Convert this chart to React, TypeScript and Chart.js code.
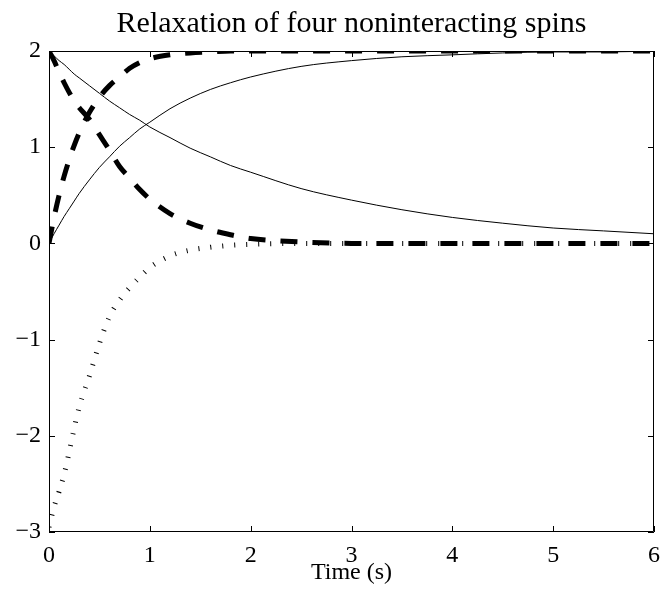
import React, { useEffect, useRef } from "react";
import { Chart, registerables } from "chart.js";

Chart.register(...registerables);

const timeS = [0, 0.05, 0.1, 0.15, 0.2, 0.25, 0.3, 0.4, 0.5, 0.6, 0.7, 0.8, 0.9, 1.0, 1.2, 1.4, 1.6, 1.8, 2.0, 2.5, 3.0, 3.5, 4.0, 4.5, 5.0, 5.5, 6.0];
const slowRise = [0, 0.1, 0.19, 0.28, 0.36, 0.44, 0.52, 0.66, 0.79, 0.9, 1.01, 1.1, 1.19, 1.26, 1.4, 1.51, 1.6, 1.67, 1.73, 1.84, 1.9, 1.94, 1.96, 1.98, 1.99, 1.99, 2.0];
const slowDecay = [2, 1.95, 1.9, 1.86, 1.81, 1.76, 1.72, 1.64, 1.56, 1.48, 1.41, 1.34, 1.28, 1.21, 1.1, 0.99, 0.9, 0.81, 0.74, 0.57, 0.45, 0.35, 0.27, 0.21, 0.16, 0.13, 0.1];
const fastRise = [0, 0.27, 0.5, 0.7, 0.87, 1.02, 1.15, 1.36, 1.52, 1.64, 1.73, 1.82, 1.88, 1.92, 1.96, 1.98, 1.99, 2.0, 2.0, 2.0, 2.0, 2.0, 2.0, 2.0, 2.0, 2.0, 2.0];
const fastDecay = [2, 1.9, 1.78, 1.67, 1.57, 1.48, 1.41, 1.29, 1.13, 0.97, 0.8, 0.68, 0.56, 0.46, 0.31, 0.21, 0.14, 0.09, 0.05, 0.015, 0, 0, 0, 0, 0, 0, 0];
const negRecovery = [-2.95, -2.74, -2.58, -2.4, -2.17, -1.92, -1.7, -1.38, -1.04, -0.76, -0.59, -0.46, -0.35, -0.25, -0.13, -0.07, -0.04, -0.02, -0.01, 0, 0, 0, 0, 0, 0, 0, 0];

const xTickValues = [0, 1, 2, 3, 4, 5, 6];
const yTickValues = [-3, -2, -1, 0, 1, 2];

const FONT = "'Liberation Serif', 'Times New Roman', serif";

const pts = (arr: number[]) => timeS.map((t, i) => ({ x: t, y: arr[i] }));

const framePlugin = {
  id: "frame",
  afterDatasetsDraw(chart: any) {
    const { ctx, chartArea: a, scales } = chart;
    const len = 6;
    ctx.save();
    ctx.strokeStyle = "#000";
    ctx.lineWidth = 1;
    ctx.beginPath();
    ctx.rect(a.left + 0.5, a.top + 0.5, a.right - a.left - 1, a.bottom - a.top - 1);
    xTickValues.forEach((v) => {
      const x = Math.round(scales.x.getPixelForValue(v)) + 0.5;
      ctx.moveTo(x, a.bottom);
      ctx.lineTo(x, a.bottom - len);
      ctx.moveTo(x, a.top);
      ctx.lineTo(x, a.top + len);
    });
    yTickValues.forEach((v) => {
      const y = Math.round(scales.y.getPixelForValue(v)) + 0.5;
      ctx.moveTo(a.left, y);
      ctx.lineTo(a.left + len, y);
      ctx.moveTo(a.right, y);
      ctx.lineTo(a.right - len, y);
    });
    ctx.stroke();
    ctx.restore();
  },
};

export default function App() {
  const ref = useRef<HTMLCanvasElement | null>(null);
  useEffect(() => {
    if (!ref.current) return;
    const base = { pointRadius: 0, borderColor: "#000", fill: false, cubicInterpolationMode: "monotone" as const };
    const chart = new Chart(ref.current, {
      type: "line",
      data: {
        datasets: [
          { ...base, label: "slow rise", data: pts(slowRise), borderWidth: 1 },
          { ...base, label: "slow decay", data: pts(slowDecay), borderWidth: 1 },
          { ...base, label: "fast rise", data: pts(fastRise), borderWidth: 5, borderDash: [17, 15] },
          { ...base, label: "fast decay", data: pts(fastDecay), borderWidth: 5, borderDash: [17, 15] },
          { ...base, label: "negative recovery", data: pts(negRecovery), borderWidth: 5, borderDash: [1, 11] },
        ],
      },
      options: {
        responsive: false,
        animation: false,
        devicePixelRatio: 1,
        layout: { padding: { left: 0, right: 8, top: 0, bottom: 0 } },
        plugins: {
          legend: { display: false },
          tooltip: { enabled: false },
          title: {
            display: true,
            fullSize: false,
            text: "Relaxation of four noninteracting spins",
            color: "#000",
            font: { family: FONT, size: 30, weight: "normal" },
            padding: { top: 6, bottom: 9 },
          },
        },
        scales: {
          x: {
            type: "linear",
            min: 0,
            max: 6,
            afterFit: (s: any) => { s.height = 58; },
            afterBuildTicks: (s: any) => { s.ticks = xTickValues.map((v) => ({ value: v })); },
            grid: { display: false, drawTicks: false },
            border: { display: false },
            ticks: { color: "#000", font: { family: FONT, size: 24 }, padding: 9, maxRotation: 0 },
            title: {
              display: true,
              text: "Time (s)",
              color: "#000",
              font: { family: FONT, size: 24 },
              padding: { top: 0, bottom: 3 },
            },
          },
          y: {
            type: "linear",
            min: -3,
            max: 2,
            afterFit: (s: any) => { s.width = 49; },
            afterBuildTicks: (s: any) => { s.ticks = yTickValues.map((v) => ({ value: v })); },
            grid: { display: false, drawTicks: false },
            border: { display: false },
            ticks: {
              color: "#000",
              font: { family: FONT, size: 24 },
              padding: 8,
              callback: (v: any) => (Number(v) < 0 ? "\u2212" + Math.abs(Number(v)) : String(v)),
            },
          },
        },
      },
      plugins: [framePlugin],
    });
    return () => chart.destroy();
  }, []);
  return (
    <div style={{ position: "absolute", left: 0, top: 0, width: 669, height: 590, background: "#fff" }}>
      <canvas ref={ref} width={669} height={590} />
    </div>
  );
}
